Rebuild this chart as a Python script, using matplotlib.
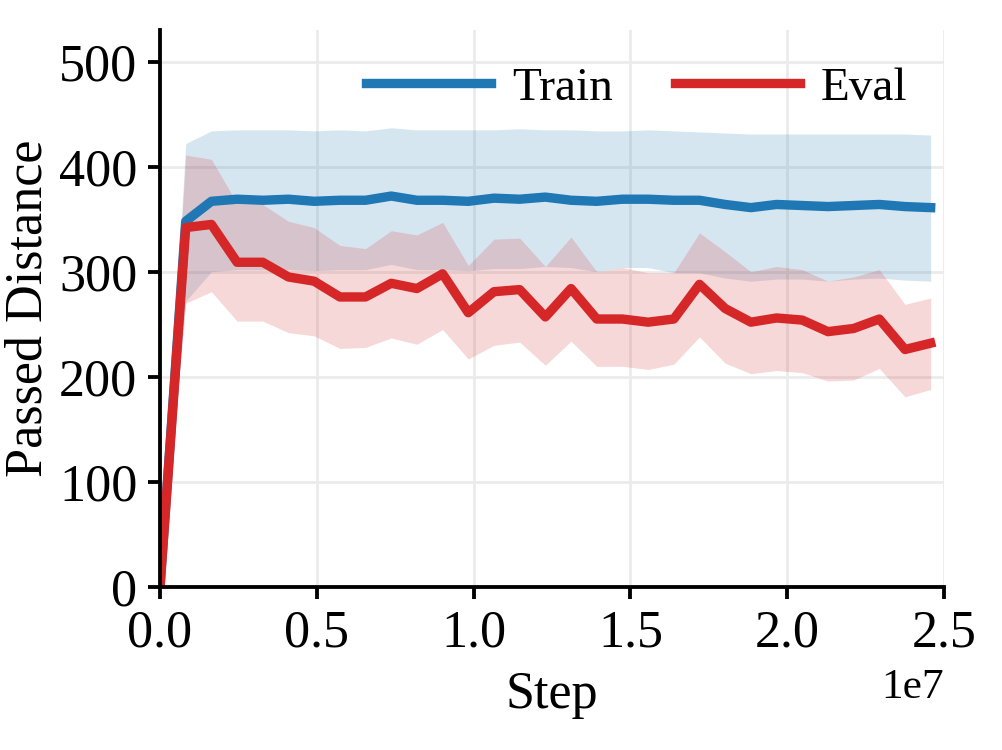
import matplotlib.pyplot as plt

# steps (x axis)
steps = [0, 819200, 1638400, 2457600, 3276800, 4096000, 4915200, 5734400,
         6553600, 7372800, 8192000, 9011200, 9830400, 10649600, 11468800,
         12288000, 13107200, 13926400, 14745600, 15564800, 16384000,
         17203200, 18022400, 18841600, 19660800, 20480000, 21299200,
         22118400, 22937600, 23756800, 24576000]

# Train: mean and band
train_mean = [0, 348, 367, 369, 368, 369, 367, 368, 368, 372, 368, 368, 367,
              370, 369, 371, 368, 367, 369, 369, 368, 368, 364, 361, 364,
              363, 362, 363, 364, 362, 361]
train_upper = [0, 422, 434, 435, 435, 435, 434, 435, 434, 437, 435, 435, 435,
               435, 436, 435, 435, 434, 434, 435, 434, 433, 432, 431, 431,
               431, 431, 431, 431, 431, 430]
train_lower = [0, 272, 300, 302, 302, 302, 301, 302, 302, 307, 302, 302, 301,
               303, 303, 305, 304, 300, 304, 304, 299, 299, 294, 291, 293,
               293, 291, 293, 294, 292, 291]

# Eval: mean and band
eval_mean = [0, 342, 345, 309, 309, 295, 291, 276, 276, 289, 284, 298, 261,
             281, 283, 257, 284, 255, 255, 252, 255, 288, 265, 252, 256, 254,
             243, 246, 255, 226, 232]
eval_upper = [0, 411, 407, 365, 364, 348, 342, 325, 322, 339, 335, 347, 306,
              331, 332, 305, 333, 300, 304, 299, 299, 337, 319, 300, 305, 302,
              291, 295, 302, 269, 275]
eval_lower = [0, 270, 281, 253, 253, 242, 239, 227, 228, 237, 231, 245, 217,
              230, 233, 211, 234, 210, 210, 207, 212, 238, 213, 203, 206, 204,
              196, 197, 208, 181, 188]

plt.rcParams['font.family'] = ['Liberation Serif', 'DejaVu Serif']

fig = plt.figure(figsize=(4.008, 3), dpi=250)
ax = fig.add_axes([0.1597, 0.2173, 0.7824, 0.7427])

blue = '#1f77b4'
red = '#d62728'

ax.fill_between(steps, train_lower, train_upper, color=blue, alpha=0.18, linewidth=0)
ax.fill_between(steps, eval_lower, eval_upper, color=red, alpha=0.18, linewidth=0)
ax.plot(steps, train_mean, color=blue, lw=2.7, label='Train')
ax.plot(steps, eval_mean, color=red, lw=2.7, label='Eval')

ax.set_xlim(0, 2.5e7)
ax.set_ylim(0, 530)
ax.set_yticks([0, 100, 200, 300, 400, 500])
ax.set_xticks([0, 0.5e7, 1.0e7, 1.5e7, 2.0e7, 2.5e7])

ax.grid(True, color='#ebebeb', lw=0.8)
ax.set_axisbelow(True)
ax.spines['top'].set_visible(False)
ax.spines['right'].set_visible(False)
for s in ['left', 'bottom']:
    ax.spines[s].set_linewidth(1.1)
ax.tick_params(labelsize=15, width=1.1, length=3.5, pad=3)
ax.xaxis.get_offset_text().set_fontsize(12.5)

ax.set_xlabel('Step', fontsize=15, labelpad=4)
ax.set_ylabel('Passed Distance', fontsize=15, labelpad=2)

ax.legend(loc='upper right', bbox_to_anchor=(0.99, 0.985), ncol=2,
          frameon=False, fontsize=13.6, handlelength=2.65, columnspacing=1.3,
          handletextpad=0.45, borderaxespad=0.2)

fig.savefig('out.png', dpi=250)
